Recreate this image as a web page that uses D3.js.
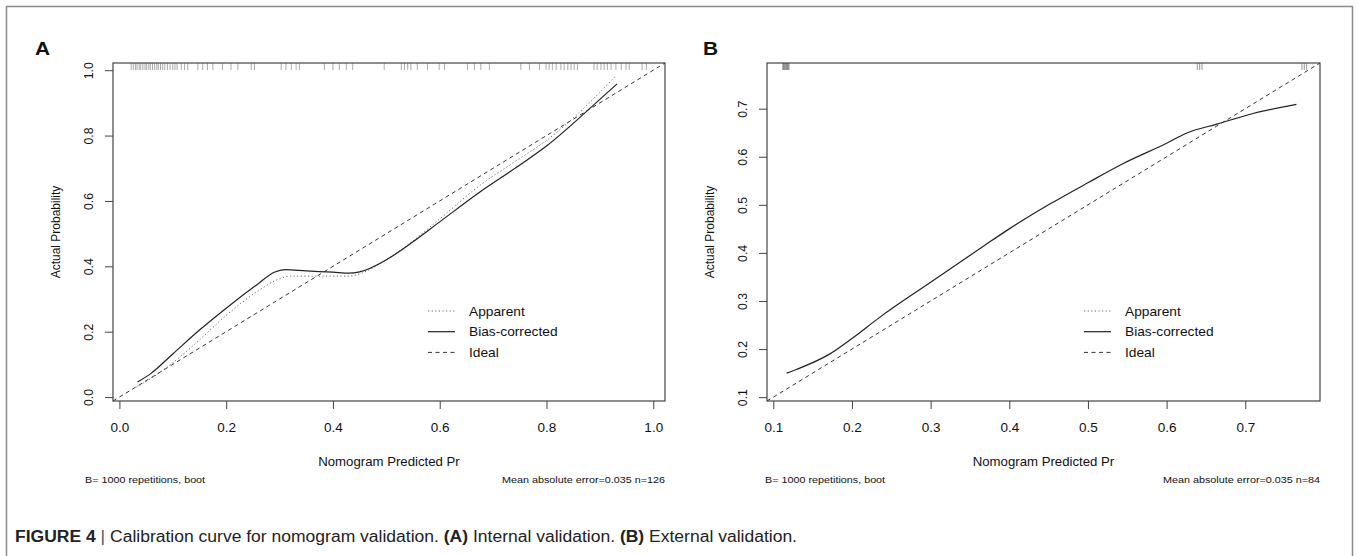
<!DOCTYPE html>
<html>
<head>
<meta charset="utf-8">
<script src="https://cdn.jsdelivr.net/npm/d3@7"></script>
<style>
body { margin: 0; background: #fff; }
svg { display: block; font-family: "Liberation Sans", Arial, sans-serif; }
</style>
</head>
<body>
<svg id="chart" width="1358" height="556"></svg>
<script>
// ---- panel A : internal validation (n=126) ----
var rugA = [0.022, 0.026, 0.030, 0.033, 0.037, 0.040, 0.044, 0.048, 0.051, 0.055, 0.058, 0.062,
    0.066, 0.070, 0.073, 0.077, 0.081, 0.085, 0.090, 0.095, 0.100, 0.104, 0.108,
    0.116, 0.122, 0.128, 0.147, 0.156, 0.165, 0.175, 0.193, 0.209, 0.222, 0.247, 0.253,
    0.303, 0.312, 0.322, 0.331, 0.337, 0.384, 0.400, 0.412, 0.425, 0.437,
    0.496, 0.528, 0.534, 0.540, 0.546, 0.558, 0.577, 0.599, 0.609,
    0.652, 0.665, 0.677, 0.693, 0.752, 0.768, 0.787, 0.799, 0.805, 0.811, 0.818,
    0.827, 0.833, 0.840, 0.846, 0.852, 0.858, 0.889, 0.895, 0.902, 0.908, 0.914, 0.921, 0.930,
    0.940, 0.949, 0.955, 0.979, 0.987];
var apparentAx = [0.032, 0.06, 0.10, 0.15, 0.20, 0.26, 0.30, 0.32, 0.36, 0.40, 0.43, 0.45, 0.50, 0.55, 0.60, 0.674, 0.75, 0.80, 0.861, 0.93];
var apparentAy = [0.031, 0.058, 0.105, 0.175, 0.25, 0.325, 0.362, 0.37, 0.37, 0.37, 0.37, 0.377, 0.42, 0.478, 0.545, 0.646, 0.73, 0.785, 0.87, 0.983];
var biasAx = [0.034, 0.058, 0.10, 0.15, 0.20, 0.26, 0.29, 0.31, 0.35, 0.40, 0.43, 0.45, 0.50, 0.55, 0.60, 0.674, 0.75, 0.80, 0.886, 0.932];
var biasAy = [0.046, 0.071, 0.132, 0.205, 0.272, 0.347, 0.382, 0.39, 0.386, 0.382, 0.379, 0.383, 0.42, 0.475, 0.536, 0.626, 0.71, 0.768, 0.89, 0.958];
var ticksA = [0, 0.2, 0.4, 0.6, 0.8, 1.0];

// ---- panel B : external validation (n=84) ----
var rugB = [0.112, 0.113, 0.114, 0.115, 0.116, 0.117, 0.118, 0.119, 0.120,
    0.639, 0.642, 0.645, 0.772, 0.775, 0.778];
var biasBx = [0.117, 0.13, 0.172, 0.20, 0.236, 0.30, 0.368, 0.40, 0.451, 0.50, 0.545, 0.60, 0.625, 0.664, 0.71, 0.765];
var biasBy = [0.15, 0.158, 0.19, 0.222, 0.267, 0.339, 0.415, 0.45, 0.501, 0.546, 0.586, 0.628, 0.649, 0.668, 0.69, 0.709];
var ticksB = [0.1, 0.2, 0.3, 0.4, 0.5, 0.6, 0.7];

var legendLabels = ["Apparent", "Bias-corrected", "Ideal"];
var subLeft = "B= 1000 repetitions, boot";
var subRightA = "Mean absolute error=0.035 n=126";
var subRightB = "Mean absolute error=0.035 n=84";

var svg = d3.select("#chart");
var STRETCH = "scale(1.1,1)";

var styles = {
    apparent: { color: "#666", width: 1, dash: "1.2,2.4" },
    bias: { color: "#222", width: 1.2, dash: null },
    ideal: { color: "#333", width: 1, dash: "4,3.5" }
};

// outer frame
svg.append("rect")
    .attr("x", 6.5).attr("y", 6.5)
    .attr("width", 1346).attr("height", 570)
    .attr("fill", "none").attr("stroke", "#8a8a8a").attr("stroke-width", 1.5);

var hText = function (g, x, y, txt, size, anchor, weight) {
    return g.append("text")
        .attr("transform", "translate(" + x + "," + y + ") " + STRETCH)
        .attr("font-size", size)
        .attr("text-anchor", anchor || "start")
        .attr("font-weight", weight || "normal")
        .attr("fill", "#111")
        .text(txt);
};

var drawPanel = function (p) {
    var g = svg.append("g");
    var x = d3.scaleLinear().domain(p.domain).range([p.left, p.right]);
    var y = d3.scaleLinear().domain(p.domain).range([p.bottom, p.top]);

    var line = d3.line()
        .x(function (d) { return x(d[0]); })
        .y(function (d) { return y(d[1]); })
        .curve(d3.curveMonotoneX);

    var addCurve = function (pts, st) {
        g.append("path")
            .datum(pts)
            .attr("d", line)
            .attr("fill", "none")
            .attr("stroke", st.color)
            .attr("stroke-width", st.width)
            .attr("stroke-dasharray", st.dash);
    };

    // ideal diagonal, corner to corner
    addCurve([[p.domain[0], p.domain[0]], [p.domain[1], p.domain[1]]], styles.ideal);
    if (p.appX) addCurve(d3.zip(p.appX, p.appY), styles.apparent);
    addCurve(d3.zip(p.biasX, p.biasY), styles.bias);

    // rug of predicted values along the top
    g.selectAll(".rug").data(p.rug).enter().append("line")
        .attr("x1", function (d) { return x(d); })
        .attr("x2", function (d) { return x(d); })
        .attr("y1", p.top)
        .attr("y2", p.top + 7)
        .attr("stroke", p.rugColor)
        .attr("stroke-opacity", p.rugOpacity)
        .attr("stroke-width", 1);

    // plot box
    g.append("rect")
        .attr("x", p.left).attr("y", p.top)
        .attr("width", p.right - p.left).attr("height", p.bottom - p.top)
        .attr("fill", "none").attr("stroke", "#444").attr("stroke-width", 1.2);

    // x axis
    var xa = g.append("g")
        .attr("transform", "translate(0," + p.bottom + ")")
        .call(d3.axisBottom(x).tickValues(p.ticks).tickSize(8).tickFormat(d3.format(".1f")));
    xa.select(".domain").remove();
    xa.selectAll("line").attr("stroke", "#444");
    xa.selectAll("text")
        .attr("y", null).attr("dy", null)
        .attr("transform", "translate(0,31) " + STRETCH)
        .attr("font-size", 12.3).attr("font-family", null).attr("fill", "#111");

    // y axis, labels rotated as in R (las=0)
    var ya = g.append("g")
        .attr("transform", "translate(" + p.left + ",0)")
        .call(d3.axisLeft(y).tickValues(p.ticks).tickSize(8).tickFormat(d3.format(".1f")));
    ya.select(".domain").remove();
    ya.selectAll("line").attr("stroke", "#444");
    ya.selectAll("text")
        .attr("x", null).attr("dy", null)
        .attr("text-anchor", "middle")
        .attr("transform", "translate(-20.5,0) rotate(-90)")
        .attr("font-size", 12.3).attr("font-family", null).attr("fill", "#111");

    // axis titles
    var cx = (p.left + p.right) / 2;
    hText(g, cx, 466, "Nomogram Predicted Pr", 12, "middle");
    g.append("text")
        .attr("transform", "translate(" + (p.left - 53.5) + "," + ((p.top + p.bottom) / 2) + ") rotate(-90)")
        .attr("text-anchor", "middle")
        .attr("font-size", 12)
        .attr("fill", "#111")
        .text("Actual Probability");

    // sub texts
    hText(g, p.subLeftX, 483, subLeft, 9.8, "start");
    hText(g, p.right, 483, p.subRight, 9.8, "end");

    // legend
    var legendStyles = [styles.apparent, styles.bias, styles.ideal];
    legendLabels.forEach(function (lab, i) {
        var ly = 311 + i * 20.7;
        g.append("line")
            .attr("x1", p.legendX).attr("x2", p.legendX + 27)
            .attr("y1", ly).attr("y2", ly)
            .attr("stroke", legendStyles[i].color)
            .attr("stroke-width", legendStyles[i].width)
            .attr("stroke-dasharray", legendStyles[i].dash);
        hText(g, p.legendX + 41, ly + 4.5, lab, 12.5, "start");
    });

    // panel letter
    hText(g, p.letterX, 55, p.letter, 19, "start", "bold");
};

drawPanel({
    letter: "A", letterX: 35,
    domain: [-0.012, 1.022],
    left: 113, right: 665, top: 63, bottom: 401,
    ticks: ticksA, rug: rugA, rugColor: "#888", rugOpacity: 0.7,
    appX: apparentAx, appY: apparentAy,
    biasX: biasAx, biasY: biasAy,
    legendX: 428, subLeftX: 85, subRight: subRightA
});

drawPanel({
    letter: "B", letterX: 703,
    domain: [0.092, 0.795],
    left: 767, right: 1320, top: 63, bottom: 401,
    ticks: ticksB, rug: rugB, rugColor: "#555", rugOpacity: 0.6,
    biasX: biasBx, biasY: biasBy,
    legendX: 1084, subLeftX: 765, subRight: subRightB
});

// caption, stretched to the printed width
var cap = svg.append("text")
    .attr("x", 15).attr("y", 542)
    .attr("font-size", 16)
    .attr("textLength", 782)
    .attr("lengthAdjust", "spacingAndGlyphs")
    .attr("fill", "#222");
cap.append("tspan").attr("font-weight", "bold").text("FIGURE 4");
cap.append("tspan").attr("fill", "#555").text(" | ");
cap.append("tspan").text("Calibration curve for nomogram validation. ");
cap.append("tspan").attr("font-weight", "bold").text("(A)");
cap.append("tspan").text(" Internal validation. ");
cap.append("tspan").attr("font-weight", "bold").text("(B)");
cap.append("tspan").text(" External validation.");
</script>
</body>
</html>
